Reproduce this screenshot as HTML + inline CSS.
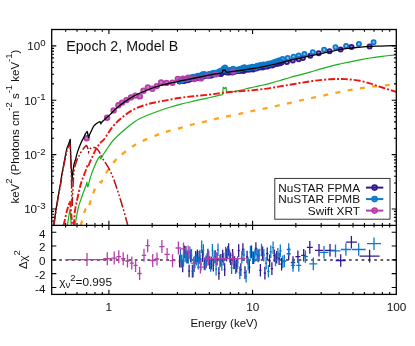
<!DOCTYPE html>
<html><head><meta charset="utf-8"><title>Epoch 2, Model B</title>
<style>
html,body{margin:0;padding:0;background:#fff;}
svg{will-change:transform;-webkit-font-smoothing:antialiased;}
body{width:415px;height:346px;overflow:hidden;font-family:"Liberation Sans",sans-serif;}
svg text{font-family:"Liberation Sans",sans-serif;}
</style></head><body>
<svg width="415" height="346" viewBox="0 0 415 346" style="display:block">
<rect x="0" y="0" width="415" height="346" fill="#ffffff"/>
<defs><clipPath id="cm"><rect x="51.7" y="29.5" width="344.6" height="195.8"/></clipPath>
<clipPath id="cr"><rect x="51.7" y="225.3" width="344.6" height="69.1"/></clipPath></defs>
<g clip-path="url(#cm)">
<circle cx="179.5" cy="81.4" r="2.10" fill="#36178f" fill-opacity="0.50" stroke="#36178f" stroke-width="1.8"/>
<circle cx="181.1" cy="80.8" r="2.10" fill="#36178f" fill-opacity="0.50" stroke="#36178f" stroke-width="1.8"/>
<circle cx="182.7" cy="80.7" r="2.10" fill="#36178f" fill-opacity="0.50" stroke="#36178f" stroke-width="1.8"/>
<circle cx="184.3" cy="81.1" r="2.10" fill="#36178f" fill-opacity="0.50" stroke="#36178f" stroke-width="1.8"/>
<circle cx="185.9" cy="80.1" r="2.10" fill="#36178f" fill-opacity="0.50" stroke="#36178f" stroke-width="1.8"/>
<circle cx="187.5" cy="80.2" r="2.10" fill="#36178f" fill-opacity="0.50" stroke="#36178f" stroke-width="1.8"/>
<circle cx="189.1" cy="79.7" r="2.10" fill="#36178f" fill-opacity="0.50" stroke="#36178f" stroke-width="1.8"/>
<circle cx="190.7" cy="79.0" r="2.10" fill="#36178f" fill-opacity="0.50" stroke="#36178f" stroke-width="1.8"/>
<circle cx="192.3" cy="78.4" r="2.10" fill="#36178f" fill-opacity="0.50" stroke="#36178f" stroke-width="1.8"/>
<circle cx="193.9" cy="78.0" r="2.10" fill="#36178f" fill-opacity="0.50" stroke="#36178f" stroke-width="1.8"/>
<circle cx="195.5" cy="78.1" r="2.10" fill="#36178f" fill-opacity="0.50" stroke="#36178f" stroke-width="1.8"/>
<circle cx="197.1" cy="77.9" r="2.10" fill="#36178f" fill-opacity="0.50" stroke="#36178f" stroke-width="1.8"/>
<circle cx="198.7" cy="77.5" r="2.10" fill="#36178f" fill-opacity="0.50" stroke="#36178f" stroke-width="1.8"/>
<circle cx="200.3" cy="77.5" r="2.10" fill="#36178f" fill-opacity="0.50" stroke="#36178f" stroke-width="1.8"/>
<circle cx="201.9" cy="76.8" r="2.10" fill="#36178f" fill-opacity="0.50" stroke="#36178f" stroke-width="1.8"/>
<circle cx="203.5" cy="76.4" r="2.10" fill="#36178f" fill-opacity="0.50" stroke="#36178f" stroke-width="1.8"/>
<circle cx="205.1" cy="75.8" r="2.10" fill="#36178f" fill-opacity="0.50" stroke="#36178f" stroke-width="1.8"/>
<circle cx="206.7" cy="75.2" r="2.10" fill="#36178f" fill-opacity="0.50" stroke="#36178f" stroke-width="1.8"/>
<circle cx="208.3" cy="75.8" r="2.10" fill="#36178f" fill-opacity="0.50" stroke="#36178f" stroke-width="1.8"/>
<circle cx="209.9" cy="75.5" r="2.10" fill="#36178f" fill-opacity="0.50" stroke="#36178f" stroke-width="1.8"/>
<circle cx="211.5" cy="75.4" r="2.10" fill="#36178f" fill-opacity="0.50" stroke="#36178f" stroke-width="1.8"/>
<circle cx="213.1" cy="74.5" r="2.10" fill="#36178f" fill-opacity="0.50" stroke="#36178f" stroke-width="1.8"/>
<circle cx="214.7" cy="74.1" r="2.10" fill="#36178f" fill-opacity="0.50" stroke="#36178f" stroke-width="1.8"/>
<circle cx="216.3" cy="73.9" r="2.10" fill="#36178f" fill-opacity="0.50" stroke="#36178f" stroke-width="1.8"/>
<circle cx="217.9" cy="73.3" r="2.10" fill="#36178f" fill-opacity="0.50" stroke="#36178f" stroke-width="1.8"/>
<circle cx="219.5" cy="73.4" r="2.10" fill="#36178f" fill-opacity="0.50" stroke="#36178f" stroke-width="1.8"/>
<circle cx="221.1" cy="74.1" r="2.10" fill="#36178f" fill-opacity="0.50" stroke="#36178f" stroke-width="1.8"/>
<circle cx="222.7" cy="71.0" r="2.10" fill="#36178f" fill-opacity="0.50" stroke="#36178f" stroke-width="1.8"/>
<circle cx="224.3" cy="71.2" r="2.10" fill="#36178f" fill-opacity="0.50" stroke="#36178f" stroke-width="1.8"/>
<circle cx="225.9" cy="72.3" r="2.10" fill="#36178f" fill-opacity="0.50" stroke="#36178f" stroke-width="1.8"/>
<circle cx="227.5" cy="72.4" r="2.10" fill="#36178f" fill-opacity="0.50" stroke="#36178f" stroke-width="1.8"/>
<circle cx="229.1" cy="72.5" r="2.10" fill="#36178f" fill-opacity="0.50" stroke="#36178f" stroke-width="1.8"/>
<circle cx="230.7" cy="72.0" r="2.10" fill="#36178f" fill-opacity="0.50" stroke="#36178f" stroke-width="1.8"/>
<circle cx="232.3" cy="72.5" r="2.10" fill="#36178f" fill-opacity="0.50" stroke="#36178f" stroke-width="1.8"/>
<circle cx="233.9" cy="72.1" r="2.10" fill="#36178f" fill-opacity="0.50" stroke="#36178f" stroke-width="1.8"/>
<circle cx="235.5" cy="71.2" r="2.10" fill="#36178f" fill-opacity="0.50" stroke="#36178f" stroke-width="1.8"/>
<circle cx="237.1" cy="71.0" r="2.10" fill="#36178f" fill-opacity="0.50" stroke="#36178f" stroke-width="1.8"/>
<circle cx="238.7" cy="71.0" r="2.10" fill="#36178f" fill-opacity="0.50" stroke="#36178f" stroke-width="1.8"/>
<circle cx="240.3" cy="70.7" r="2.10" fill="#36178f" fill-opacity="0.50" stroke="#36178f" stroke-width="1.8"/>
<circle cx="241.9" cy="70.5" r="2.10" fill="#36178f" fill-opacity="0.50" stroke="#36178f" stroke-width="1.8"/>
<circle cx="243.5" cy="71.0" r="2.10" fill="#36178f" fill-opacity="0.50" stroke="#36178f" stroke-width="1.8"/>
<circle cx="245.1" cy="68.8" r="2.10" fill="#36178f" fill-opacity="0.50" stroke="#36178f" stroke-width="1.8"/>
<circle cx="246.7" cy="69.7" r="2.10" fill="#36178f" fill-opacity="0.50" stroke="#36178f" stroke-width="1.8"/>
<circle cx="248.3" cy="69.5" r="2.10" fill="#36178f" fill-opacity="0.50" stroke="#36178f" stroke-width="1.8"/>
<circle cx="249.9" cy="69.4" r="2.10" fill="#36178f" fill-opacity="0.50" stroke="#36178f" stroke-width="1.8"/>
<circle cx="251.5" cy="68.9" r="2.10" fill="#36178f" fill-opacity="0.50" stroke="#36178f" stroke-width="1.8"/>
<circle cx="253.1" cy="69.5" r="2.10" fill="#36178f" fill-opacity="0.50" stroke="#36178f" stroke-width="1.8"/>
<circle cx="254.7" cy="68.2" r="2.10" fill="#36178f" fill-opacity="0.50" stroke="#36178f" stroke-width="1.8"/>
<circle cx="256.3" cy="68.5" r="2.10" fill="#36178f" fill-opacity="0.50" stroke="#36178f" stroke-width="1.8"/>
<circle cx="257.9" cy="67.5" r="2.10" fill="#36178f" fill-opacity="0.50" stroke="#36178f" stroke-width="1.8"/>
<circle cx="259.5" cy="67.4" r="2.10" fill="#36178f" fill-opacity="0.50" stroke="#36178f" stroke-width="1.8"/>
<circle cx="261.1" cy="66.9" r="2.10" fill="#36178f" fill-opacity="0.50" stroke="#36178f" stroke-width="1.8"/>
<circle cx="262.7" cy="67.5" r="2.10" fill="#36178f" fill-opacity="0.50" stroke="#36178f" stroke-width="1.8"/>
<circle cx="264.3" cy="66.3" r="2.10" fill="#36178f" fill-opacity="0.50" stroke="#36178f" stroke-width="1.8"/>
<circle cx="265.9" cy="66.5" r="2.10" fill="#36178f" fill-opacity="0.50" stroke="#36178f" stroke-width="1.8"/>
<circle cx="267.5" cy="66.6" r="2.10" fill="#36178f" fill-opacity="0.50" stroke="#36178f" stroke-width="1.8"/>
<circle cx="269.1" cy="65.7" r="2.10" fill="#36178f" fill-opacity="0.50" stroke="#36178f" stroke-width="1.8"/>
<circle cx="270.7" cy="65.0" r="2.10" fill="#36178f" fill-opacity="0.50" stroke="#36178f" stroke-width="1.8"/>
<circle cx="272.3" cy="65.5" r="2.10" fill="#36178f" fill-opacity="0.50" stroke="#36178f" stroke-width="1.8"/>
<circle cx="273.9" cy="64.6" r="2.10" fill="#36178f" fill-opacity="0.50" stroke="#36178f" stroke-width="1.8"/>
<circle cx="275.5" cy="64.0" r="2.10" fill="#36178f" fill-opacity="0.50" stroke="#36178f" stroke-width="1.8"/>
<circle cx="277.1" cy="63.7" r="2.10" fill="#36178f" fill-opacity="0.50" stroke="#36178f" stroke-width="1.8"/>
<circle cx="278.7" cy="63.4" r="2.10" fill="#36178f" fill-opacity="0.50" stroke="#36178f" stroke-width="1.8"/>
<circle cx="280.3" cy="63.2" r="2.10" fill="#36178f" fill-opacity="0.50" stroke="#36178f" stroke-width="1.8"/>
<circle cx="281.9" cy="62.3" r="2.10" fill="#36178f" fill-opacity="0.50" stroke="#36178f" stroke-width="1.8"/>
<circle cx="286.9" cy="62.0" r="2.10" fill="#36178f" fill-opacity="0.50" stroke="#36178f" stroke-width="1.8"/>
<circle cx="292.8" cy="60.6" r="2.10" fill="#36178f" fill-opacity="0.50" stroke="#36178f" stroke-width="1.8"/>
<circle cx="298.7" cy="59.2" r="2.10" fill="#36178f" fill-opacity="0.50" stroke="#36178f" stroke-width="1.8"/>
<circle cx="302.9" cy="58.1" r="2.10" fill="#36178f" fill-opacity="0.50" stroke="#36178f" stroke-width="1.8"/>
<circle cx="310.3" cy="55.8" r="2.10" fill="#36178f" fill-opacity="0.50" stroke="#36178f" stroke-width="1.8"/>
<circle cx="318.7" cy="53.2" r="2.10" fill="#36178f" fill-opacity="0.50" stroke="#36178f" stroke-width="1.8"/>
<circle cx="329.5" cy="51.2" r="2.10" fill="#36178f" fill-opacity="0.50" stroke="#36178f" stroke-width="1.8"/>
<circle cx="340.6" cy="49.6" r="2.10" fill="#36178f" fill-opacity="0.50" stroke="#36178f" stroke-width="1.8"/>
<circle cx="351.5" cy="47.1" r="2.10" fill="#36178f" fill-opacity="0.50" stroke="#36178f" stroke-width="1.8"/>
<circle cx="369.6" cy="46.5" r="2.10" fill="#36178f" fill-opacity="0.50" stroke="#36178f" stroke-width="1.8"/>
<circle cx="180.3" cy="80.9" r="2.10" fill="#0c79c9" fill-opacity="0.50" stroke="#0c79c9" stroke-width="1.8"/>
<circle cx="181.9" cy="80.4" r="2.10" fill="#0c79c9" fill-opacity="0.50" stroke="#0c79c9" stroke-width="1.8"/>
<circle cx="183.5" cy="79.4" r="2.10" fill="#0c79c9" fill-opacity="0.50" stroke="#0c79c9" stroke-width="1.8"/>
<circle cx="185.1" cy="79.3" r="2.10" fill="#0c79c9" fill-opacity="0.50" stroke="#0c79c9" stroke-width="1.8"/>
<circle cx="186.7" cy="79.3" r="2.10" fill="#0c79c9" fill-opacity="0.50" stroke="#0c79c9" stroke-width="1.8"/>
<circle cx="188.3" cy="78.5" r="2.10" fill="#0c79c9" fill-opacity="0.50" stroke="#0c79c9" stroke-width="1.8"/>
<circle cx="189.9" cy="77.7" r="2.10" fill="#0c79c9" fill-opacity="0.50" stroke="#0c79c9" stroke-width="1.8"/>
<circle cx="191.5" cy="77.6" r="2.10" fill="#0c79c9" fill-opacity="0.50" stroke="#0c79c9" stroke-width="1.8"/>
<circle cx="193.1" cy="76.7" r="2.10" fill="#0c79c9" fill-opacity="0.50" stroke="#0c79c9" stroke-width="1.8"/>
<circle cx="194.7" cy="77.0" r="2.10" fill="#0c79c9" fill-opacity="0.50" stroke="#0c79c9" stroke-width="1.8"/>
<circle cx="196.3" cy="76.6" r="2.10" fill="#0c79c9" fill-opacity="0.50" stroke="#0c79c9" stroke-width="1.8"/>
<circle cx="197.9" cy="75.7" r="2.10" fill="#0c79c9" fill-opacity="0.50" stroke="#0c79c9" stroke-width="1.8"/>
<circle cx="199.5" cy="76.3" r="2.10" fill="#0c79c9" fill-opacity="0.50" stroke="#0c79c9" stroke-width="1.8"/>
<circle cx="201.1" cy="75.3" r="2.10" fill="#0c79c9" fill-opacity="0.50" stroke="#0c79c9" stroke-width="1.8"/>
<circle cx="202.7" cy="74.3" r="2.10" fill="#0c79c9" fill-opacity="0.50" stroke="#0c79c9" stroke-width="1.8"/>
<circle cx="204.3" cy="73.9" r="2.10" fill="#0c79c9" fill-opacity="0.50" stroke="#0c79c9" stroke-width="1.8"/>
<circle cx="205.9" cy="75.4" r="2.10" fill="#0c79c9" fill-opacity="0.50" stroke="#0c79c9" stroke-width="1.8"/>
<circle cx="207.5" cy="74.9" r="2.10" fill="#0c79c9" fill-opacity="0.50" stroke="#0c79c9" stroke-width="1.8"/>
<circle cx="209.1" cy="73.9" r="2.10" fill="#0c79c9" fill-opacity="0.50" stroke="#0c79c9" stroke-width="1.8"/>
<circle cx="210.7" cy="74.0" r="2.10" fill="#0c79c9" fill-opacity="0.50" stroke="#0c79c9" stroke-width="1.8"/>
<circle cx="212.3" cy="73.3" r="2.10" fill="#0c79c9" fill-opacity="0.50" stroke="#0c79c9" stroke-width="1.8"/>
<circle cx="213.9" cy="72.7" r="2.10" fill="#0c79c9" fill-opacity="0.50" stroke="#0c79c9" stroke-width="1.8"/>
<circle cx="215.5" cy="72.8" r="2.10" fill="#0c79c9" fill-opacity="0.50" stroke="#0c79c9" stroke-width="1.8"/>
<circle cx="217.1" cy="73.2" r="2.10" fill="#0c79c9" fill-opacity="0.50" stroke="#0c79c9" stroke-width="1.8"/>
<circle cx="218.7" cy="71.8" r="2.10" fill="#0c79c9" fill-opacity="0.50" stroke="#0c79c9" stroke-width="1.8"/>
<circle cx="220.3" cy="70.9" r="2.10" fill="#0c79c9" fill-opacity="0.50" stroke="#0c79c9" stroke-width="1.8"/>
<circle cx="221.9" cy="70.4" r="2.10" fill="#0c79c9" fill-opacity="0.50" stroke="#0c79c9" stroke-width="1.8"/>
<circle cx="223.5" cy="68.7" r="2.10" fill="#0c79c9" fill-opacity="0.50" stroke="#0c79c9" stroke-width="1.8"/>
<circle cx="225.1" cy="67.4" r="2.10" fill="#0c79c9" fill-opacity="0.50" stroke="#0c79c9" stroke-width="1.8"/>
<circle cx="226.7" cy="70.4" r="2.10" fill="#0c79c9" fill-opacity="0.50" stroke="#0c79c9" stroke-width="1.8"/>
<circle cx="228.3" cy="70.3" r="2.10" fill="#0c79c9" fill-opacity="0.50" stroke="#0c79c9" stroke-width="1.8"/>
<circle cx="229.9" cy="69.9" r="2.10" fill="#0c79c9" fill-opacity="0.50" stroke="#0c79c9" stroke-width="1.8"/>
<circle cx="231.5" cy="70.4" r="2.10" fill="#0c79c9" fill-opacity="0.50" stroke="#0c79c9" stroke-width="1.8"/>
<circle cx="233.1" cy="68.7" r="2.10" fill="#0c79c9" fill-opacity="0.50" stroke="#0c79c9" stroke-width="1.8"/>
<circle cx="234.7" cy="70.3" r="2.10" fill="#0c79c9" fill-opacity="0.50" stroke="#0c79c9" stroke-width="1.8"/>
<circle cx="236.3" cy="69.7" r="2.10" fill="#0c79c9" fill-opacity="0.50" stroke="#0c79c9" stroke-width="1.8"/>
<circle cx="237.9" cy="70.2" r="2.10" fill="#0c79c9" fill-opacity="0.50" stroke="#0c79c9" stroke-width="1.8"/>
<circle cx="239.5" cy="69.0" r="2.10" fill="#0c79c9" fill-opacity="0.50" stroke="#0c79c9" stroke-width="1.8"/>
<circle cx="241.1" cy="68.7" r="2.10" fill="#0c79c9" fill-opacity="0.50" stroke="#0c79c9" stroke-width="1.8"/>
<circle cx="242.7" cy="68.1" r="2.10" fill="#0c79c9" fill-opacity="0.50" stroke="#0c79c9" stroke-width="1.8"/>
<circle cx="244.3" cy="67.2" r="2.10" fill="#0c79c9" fill-opacity="0.50" stroke="#0c79c9" stroke-width="1.8"/>
<circle cx="245.9" cy="68.0" r="2.10" fill="#0c79c9" fill-opacity="0.50" stroke="#0c79c9" stroke-width="1.8"/>
<circle cx="247.5" cy="68.0" r="2.10" fill="#0c79c9" fill-opacity="0.50" stroke="#0c79c9" stroke-width="1.8"/>
<circle cx="249.1" cy="67.4" r="2.10" fill="#0c79c9" fill-opacity="0.50" stroke="#0c79c9" stroke-width="1.8"/>
<circle cx="250.7" cy="67.8" r="2.10" fill="#0c79c9" fill-opacity="0.50" stroke="#0c79c9" stroke-width="1.8"/>
<circle cx="252.3" cy="66.7" r="2.10" fill="#0c79c9" fill-opacity="0.50" stroke="#0c79c9" stroke-width="1.8"/>
<circle cx="253.9" cy="66.9" r="2.10" fill="#0c79c9" fill-opacity="0.50" stroke="#0c79c9" stroke-width="1.8"/>
<circle cx="255.5" cy="67.6" r="2.10" fill="#0c79c9" fill-opacity="0.50" stroke="#0c79c9" stroke-width="1.8"/>
<circle cx="257.1" cy="65.7" r="2.10" fill="#0c79c9" fill-opacity="0.50" stroke="#0c79c9" stroke-width="1.8"/>
<circle cx="258.7" cy="65.9" r="2.10" fill="#0c79c9" fill-opacity="0.50" stroke="#0c79c9" stroke-width="1.8"/>
<circle cx="260.3" cy="64.9" r="2.10" fill="#0c79c9" fill-opacity="0.50" stroke="#0c79c9" stroke-width="1.8"/>
<circle cx="261.9" cy="64.9" r="2.10" fill="#0c79c9" fill-opacity="0.50" stroke="#0c79c9" stroke-width="1.8"/>
<circle cx="263.5" cy="64.6" r="2.10" fill="#0c79c9" fill-opacity="0.50" stroke="#0c79c9" stroke-width="1.8"/>
<circle cx="265.1" cy="64.9" r="2.10" fill="#0c79c9" fill-opacity="0.50" stroke="#0c79c9" stroke-width="1.8"/>
<circle cx="266.7" cy="64.6" r="2.10" fill="#0c79c9" fill-opacity="0.50" stroke="#0c79c9" stroke-width="1.8"/>
<circle cx="268.3" cy="63.7" r="2.10" fill="#0c79c9" fill-opacity="0.50" stroke="#0c79c9" stroke-width="1.8"/>
<circle cx="269.9" cy="63.4" r="2.10" fill="#0c79c9" fill-opacity="0.50" stroke="#0c79c9" stroke-width="1.8"/>
<circle cx="271.5" cy="63.4" r="2.10" fill="#0c79c9" fill-opacity="0.50" stroke="#0c79c9" stroke-width="1.8"/>
<circle cx="273.1" cy="62.7" r="2.10" fill="#0c79c9" fill-opacity="0.50" stroke="#0c79c9" stroke-width="1.8"/>
<circle cx="274.7" cy="62.1" r="2.10" fill="#0c79c9" fill-opacity="0.50" stroke="#0c79c9" stroke-width="1.8"/>
<circle cx="276.3" cy="61.4" r="2.10" fill="#0c79c9" fill-opacity="0.50" stroke="#0c79c9" stroke-width="1.8"/>
<circle cx="277.9" cy="61.0" r="2.10" fill="#0c79c9" fill-opacity="0.50" stroke="#0c79c9" stroke-width="1.8"/>
<circle cx="279.5" cy="60.3" r="2.10" fill="#0c79c9" fill-opacity="0.50" stroke="#0c79c9" stroke-width="1.8"/>
<circle cx="282.6" cy="59.1" r="2.10" fill="#0c79c9" fill-opacity="0.50" stroke="#0c79c9" stroke-width="1.8"/>
<circle cx="287.7" cy="57.9" r="2.10" fill="#0c79c9" fill-opacity="0.50" stroke="#0c79c9" stroke-width="1.8"/>
<circle cx="293.6" cy="56.8" r="2.10" fill="#0c79c9" fill-opacity="0.50" stroke="#0c79c9" stroke-width="1.8"/>
<circle cx="298.7" cy="55.6" r="2.10" fill="#0c79c9" fill-opacity="0.50" stroke="#0c79c9" stroke-width="1.8"/>
<circle cx="304.4" cy="54.1" r="2.10" fill="#0c79c9" fill-opacity="0.50" stroke="#0c79c9" stroke-width="1.8"/>
<circle cx="312.8" cy="52.2" r="2.10" fill="#0c79c9" fill-opacity="0.50" stroke="#0c79c9" stroke-width="1.8"/>
<circle cx="324.1" cy="49.7" r="2.10" fill="#0c79c9" fill-opacity="0.50" stroke="#0c79c9" stroke-width="1.8"/>
<circle cx="335.5" cy="47.3" r="2.10" fill="#0c79c9" fill-opacity="0.50" stroke="#0c79c9" stroke-width="1.8"/>
<circle cx="346.1" cy="45.9" r="2.10" fill="#0c79c9" fill-opacity="0.50" stroke="#0c79c9" stroke-width="1.8"/>
<circle cx="358.9" cy="44.0" r="2.10" fill="#0c79c9" fill-opacity="0.50" stroke="#0c79c9" stroke-width="1.8"/>
<circle cx="373.6" cy="42.2" r="2.10" fill="#0c79c9" fill-opacity="0.50" stroke="#0c79c9" stroke-width="1.8"/>
<circle cx="86.7" cy="138.2" r="2.30" fill="#b53fa9" fill-opacity="0.70" stroke="#b53fa9" stroke-width="1.8"/>
<circle cx="107.1" cy="117.8" r="2.30" fill="#b53fa9" fill-opacity="0.70" stroke="#b53fa9" stroke-width="1.8"/>
<circle cx="113.6" cy="110.4" r="2.30" fill="#b53fa9" fill-opacity="0.70" stroke="#b53fa9" stroke-width="1.8"/>
<circle cx="118.4" cy="105.2" r="2.30" fill="#b53fa9" fill-opacity="0.70" stroke="#b53fa9" stroke-width="1.8"/>
<circle cx="122.1" cy="102.6" r="2.30" fill="#b53fa9" fill-opacity="0.70" stroke="#b53fa9" stroke-width="1.8"/>
<circle cx="126.5" cy="100.1" r="2.30" fill="#b53fa9" fill-opacity="0.70" stroke="#b53fa9" stroke-width="1.8"/>
<circle cx="131.0" cy="97.4" r="2.30" fill="#b53fa9" fill-opacity="0.70" stroke="#b53fa9" stroke-width="1.8"/>
<circle cx="135.4" cy="95.6" r="2.30" fill="#b53fa9" fill-opacity="0.70" stroke="#b53fa9" stroke-width="1.8"/>
<circle cx="139.8" cy="96.4" r="2.30" fill="#b53fa9" fill-opacity="0.70" stroke="#b53fa9" stroke-width="1.8"/>
<circle cx="143.5" cy="90.7" r="2.30" fill="#b53fa9" fill-opacity="0.70" stroke="#b53fa9" stroke-width="1.8"/>
<circle cx="147.9" cy="87.4" r="2.30" fill="#b53fa9" fill-opacity="0.70" stroke="#b53fa9" stroke-width="1.8"/>
<circle cx="152.4" cy="88.8" r="2.30" fill="#b53fa9" fill-opacity="0.70" stroke="#b53fa9" stroke-width="1.8"/>
<circle cx="156.8" cy="86.1" r="2.30" fill="#b53fa9" fill-opacity="0.70" stroke="#b53fa9" stroke-width="1.8"/>
<circle cx="161.1" cy="82.4" r="2.30" fill="#b53fa9" fill-opacity="0.70" stroke="#b53fa9" stroke-width="1.8"/>
<circle cx="166.5" cy="82.9" r="2.30" fill="#b53fa9" fill-opacity="0.70" stroke="#b53fa9" stroke-width="1.8"/>
<circle cx="172.4" cy="82.7" r="2.30" fill="#b53fa9" fill-opacity="0.70" stroke="#b53fa9" stroke-width="1.8"/>
<circle cx="177.8" cy="78.9" r="2.30" fill="#b53fa9" fill-opacity="0.70" stroke="#b53fa9" stroke-width="1.8"/>
<circle cx="183.0" cy="78.6" r="2.30" fill="#b53fa9" fill-opacity="0.70" stroke="#b53fa9" stroke-width="1.8"/>
<circle cx="188.1" cy="77.7" r="2.30" fill="#b53fa9" fill-opacity="0.70" stroke="#b53fa9" stroke-width="1.8"/>
<circle cx="194.3" cy="79.0" r="2.30" fill="#b53fa9" fill-opacity="0.70" stroke="#b53fa9" stroke-width="1.8"/>
<circle cx="200.9" cy="78.4" r="2.30" fill="#b53fa9" fill-opacity="0.70" stroke="#b53fa9" stroke-width="1.8"/>
<circle cx="207.5" cy="75.6" r="2.30" fill="#b53fa9" fill-opacity="0.70" stroke="#b53fa9" stroke-width="1.8"/>
<circle cx="215.6" cy="74.4" r="2.30" fill="#b53fa9" fill-opacity="0.70" stroke="#b53fa9" stroke-width="1.8"/>
<circle cx="233.3" cy="71.6" r="2.30" fill="#b53fa9" fill-opacity="0.70" stroke="#b53fa9" stroke-width="1.8"/>
<path d="M53.60 225.30 C54.25 221.08 56.37 206.88 57.50 200.00 C58.63 193.12 59.72 188.00 60.40 184.00 C61.08 180.00 61.03 179.33 61.60 176.00 C62.17 172.67 62.95 168.47 63.80 164.00 C64.65 159.53 65.97 152.33 66.70 149.20 C67.43 146.07 67.75 146.40 68.20 145.20 C68.65 144.00 69.07 142.98 69.40 142.00 C69.73 141.02 70.07 139.75 70.20 139.30 C70.25 141.08 70.35 145.88 70.50 150.00 C70.65 154.12 70.88 159.67 71.10 164.00 C71.32 168.33 71.65 173.17 71.80 176.00 C71.95 178.83 71.97 180.17 72.00 181.00 C72.07 180.17 72.25 177.50 72.40 176.00 C72.55 174.50 72.62 174.00 72.90 172.00 C73.18 170.00 73.63 166.17 74.10 164.00 C74.57 161.83 75.12 161.07 75.70 159.00 C76.28 156.93 76.63 154.47 77.60 151.60 C78.57 148.73 80.48 144.13 81.50 141.80 C82.52 139.47 83.05 138.92 83.70 137.60 C84.35 136.28 84.82 134.92 85.40 133.90 C85.98 132.88 86.90 131.90 87.20 131.50 C87.33 132.08 87.77 133.98 88.00 135.00 C88.23 136.02 88.50 137.17 88.60 137.60 C88.77 137.08 89.15 135.60 89.60 134.50 C90.05 133.40 90.58 132.43 91.30 131.00 C92.02 129.57 92.95 127.20 93.90 125.90 C94.85 124.60 95.98 123.93 97.00 123.20 C98.02 122.47 99.50 121.78 100.00 121.50 L100.80 123.90 C101.00 123.58 101.30 122.78 102.00 122.00 C102.70 121.22 103.67 120.43 105.00 119.20 C106.33 117.97 108.33 116.20 110.00 114.60 C111.67 113.00 113.33 111.17 115.00 109.60 C116.67 108.03 118.33 106.53 120.00 105.20 C121.67 103.87 123.33 102.73 125.00 101.60 C126.67 100.47 128.33 99.42 130.00 98.40 C131.67 97.38 133.33 96.40 135.00 95.50 C136.67 94.60 137.50 94.08 140.00 93.00 C142.50 91.92 146.67 90.22 150.00 89.00 C153.33 87.78 156.67 86.67 160.00 85.70 C163.33 84.73 166.67 83.98 170.00 83.20 C173.33 82.42 177.33 81.57 180.00 81.00 C182.67 80.43 182.67 80.47 186.00 79.80 C189.33 79.13 195.33 77.93 200.00 77.00 C204.67 76.07 210.67 74.80 214.00 74.20 C217.33 73.60 218.62 73.62 220.00 73.40 C221.38 73.18 221.92 72.98 222.30 72.90 L222.90 69.80 L224.00 70.60 L225.00 69.60 C225.15 69.93 225.57 71.15 225.90 71.60 C226.23 72.05 226.82 72.18 227.00 72.30 C227.17 72.27 225.83 72.40 228.00 72.10 C230.17 71.80 236.33 71.02 240.00 70.50 C243.67 69.98 246.67 69.53 250.00 69.00 C253.33 68.47 257.33 67.77 260.00 67.30 C262.67 66.83 262.67 66.93 266.00 66.20 C269.33 65.47 275.33 64.03 280.00 62.90 C284.67 61.77 290.67 60.18 294.00 59.40 C297.33 58.62 297.33 58.78 300.00 58.20 C302.67 57.62 306.67 56.63 310.00 55.90 C313.33 55.17 316.67 54.50 320.00 53.80 C323.33 53.10 326.67 52.38 330.00 51.70 C333.33 51.02 337.00 50.25 340.00 49.70 C343.00 49.15 345.33 48.77 348.00 48.40 C350.67 48.03 353.00 47.78 356.00 47.50 C359.00 47.22 362.67 46.93 366.00 46.70 C369.33 46.47 372.67 46.25 376.00 46.10 C379.33 45.95 382.67 45.87 386.00 45.80 C389.33 45.73 394.33 45.72 396.00 45.70" fill="none" stroke="#000" stroke-width="1.3" stroke-linejoin="round"/>
<path d="M67.4 225.3 L69.0 215.0 L70.0 209.4 L70.6 215.0 L71.2 225.3" fill="none" stroke="#1cb01c" stroke-width="1.2" stroke-linejoin="round"/>
<path d="M75.00 225.30 C75.53 222.43 77.13 212.65 78.20 208.10 C79.27 203.55 80.33 201.17 81.40 198.00 C82.47 194.83 83.75 191.43 84.60 189.10 C85.45 186.77 86.12 185.18 86.50 184.00 C86.88 182.82 86.83 182.33 86.90 182.00 L87.60 186.60 C87.72 186.43 87.83 187.13 88.30 185.60 C88.77 184.07 89.43 180.45 90.40 177.40 C91.37 174.35 92.88 170.30 94.10 167.30 C95.32 164.30 96.75 161.23 97.70 159.40 C98.65 157.57 99.45 156.82 99.80 156.30 L100.80 159.00 C100.97 158.70 101.37 157.98 101.80 157.20 C102.23 156.42 102.60 155.57 103.40 154.30 C104.20 153.03 104.92 151.98 106.60 149.60 C108.28 147.22 110.23 143.57 113.50 140.00 C116.77 136.43 122.62 131.30 126.20 128.20 C129.78 125.10 132.70 123.02 135.00 121.40 C137.30 119.78 137.50 119.68 140.00 118.50 C142.50 117.32 146.67 115.63 150.00 114.30 C153.33 112.97 156.67 111.68 160.00 110.50 C163.33 109.32 166.67 108.22 170.00 107.20 C173.33 106.18 176.67 105.27 180.00 104.40 C183.33 103.53 186.67 102.78 190.00 102.00 C193.33 101.22 196.67 100.45 200.00 99.70 C203.33 98.95 206.67 98.25 210.00 97.50 C213.33 96.75 217.90 95.68 220.00 95.20 C222.10 94.72 222.17 94.70 222.60 94.60 L223.20 87.30 L224.70 88.50 L226.00 87.30 L226.70 92.20 C227.00 92.22 227.12 92.45 228.50 92.30 C229.88 92.15 233.08 91.62 235.00 91.30 C236.92 90.98 237.50 90.97 240.00 90.40 C242.50 89.83 246.67 88.68 250.00 87.90 C253.33 87.12 256.67 86.47 260.00 85.70 C263.33 84.93 266.67 84.17 270.00 83.30 C273.33 82.43 276.67 81.47 280.00 80.50 C283.33 79.53 286.67 78.45 290.00 77.50 C293.33 76.55 296.67 75.68 300.00 74.80 C303.33 73.92 306.67 73.15 310.00 72.20 C313.33 71.25 316.67 70.08 320.00 69.10 C323.33 68.12 326.67 67.15 330.00 66.30 C333.33 65.45 336.67 64.73 340.00 64.00 C343.33 63.27 346.67 62.58 350.00 61.90 C353.33 61.22 356.67 60.55 360.00 59.90 C363.33 59.25 366.67 58.55 370.00 58.00 C373.33 57.45 375.67 57.13 380.00 56.60 C384.33 56.07 393.33 55.10 396.00 54.80" fill="none" stroke="#1cb01c" stroke-width="1.2" stroke-linejoin="round"/>
<path d="M80.80 225.30 C81.43 222.97 83.65 214.12 84.60 211.30 C85.55 208.48 86.18 208.88 86.50 208.40 L88.00 209.80 C88.48 208.15 89.77 203.37 90.90 199.90 C92.03 196.43 93.92 191.18 94.80 189.00 C95.68 186.82 95.33 187.93 96.20 186.80 C97.07 185.67 99.37 182.97 100.00 182.20 L101.30 182.40 C102.25 180.62 104.72 175.30 107.00 171.70 C109.28 168.10 112.83 163.42 115.00 160.80 C117.17 158.18 117.50 158.08 120.00 156.00 C122.50 153.92 126.67 150.60 130.00 148.30 C133.33 146.00 135.55 144.40 140.00 142.20 C144.45 140.00 151.98 136.93 156.70 135.10 C161.42 133.27 164.28 132.42 168.30 131.20 C172.32 129.98 176.78 128.92 180.80 127.80 C184.82 126.68 188.38 125.53 192.40 124.50 C196.42 123.47 200.88 122.57 204.90 121.60 C208.92 120.63 212.65 119.62 216.50 118.70 C220.35 117.78 223.82 116.98 228.00 116.10 C232.18 115.22 237.42 114.27 241.60 113.40 C245.78 112.53 249.10 111.75 253.10 110.90 C257.10 110.05 261.42 109.20 265.60 108.30 C269.78 107.40 274.12 106.42 278.20 105.50 C282.28 104.58 286.08 103.72 290.10 102.80 C294.12 101.88 298.33 100.88 302.30 100.00 C306.27 99.12 309.90 98.35 313.90 97.50 C317.90 96.65 322.25 95.77 326.30 94.90 C330.35 94.03 334.12 93.13 338.20 92.30 C342.28 91.47 346.65 90.65 350.80 89.90 C354.95 89.15 359.05 88.40 363.10 87.80 C367.15 87.20 371.00 86.75 375.10 86.30 C379.20 85.85 384.80 85.35 387.70 85.10 C390.60 84.85 391.70 84.85 392.50 84.80" fill="none" stroke="#ffa31a" stroke-width="2.3" stroke-dasharray="5 7.43" stroke-dashoffset="-0.06"/>
<path d="M53.90 225.30 C54.55 221.08 56.67 206.88 57.80 200.00 C58.93 193.12 60.02 188.00 60.70 184.00 C61.38 180.00 61.33 179.33 61.90 176.00 C62.47 172.67 63.25 168.25 64.10 164.00 C64.95 159.75 66.25 153.42 67.00 150.50 C67.75 147.58 68.15 147.53 68.60 146.50 C69.05 145.47 69.52 144.67 69.70 144.30 C69.80 144.75 70.12 144.38 70.30 147.00 C70.48 149.62 70.60 154.17 70.80 160.00 C71.00 165.83 71.32 175.33 71.50 182.00 C71.68 188.67 71.78 196.00 71.90 200.00 C72.02 204.00 72.15 205.00 72.20 206.00" fill="none" stroke="#b01212" stroke-width="1.5" stroke-dasharray="9.6 2.1 1.8 2.1 1.8 2.2"/>
<path d="M72.20 206.00 C72.30 203.33 72.57 195.00 72.80 190.00 C73.03 185.00 73.33 179.58 73.60 176.00 C73.87 172.42 74.03 170.57 74.40 168.50 C74.77 166.43 75.32 165.17 75.80 163.60 C76.28 162.03 76.80 160.33 77.30 159.10 C77.80 157.87 78.23 157.27 78.80 156.20 C79.37 155.13 79.88 154.02 80.70 152.70 C81.52 151.38 82.80 149.48 83.70 148.30 C84.60 147.12 85.70 146.05 86.10 145.60 C86.30 145.80 86.88 145.73 87.30 146.80 C87.72 147.87 88.38 151.13 88.60 152.00 C88.77 151.58 89.20 150.17 89.60 149.50 C90.00 148.83 90.77 148.25 91.00 148.00 C91.58 147.93 93.43 147.38 94.50 147.60 C95.57 147.82 96.42 148.27 97.40 149.30 C98.38 150.33 99.77 152.68 100.40 153.80 C101.03 154.92 100.63 154.87 101.20 156.00 C101.77 157.13 103.03 159.37 103.80 160.60 C104.57 161.83 104.85 161.90 105.80 163.40 C106.75 164.90 108.13 166.83 109.50 169.60 C110.87 172.37 112.50 176.02 114.00 180.00 C115.50 183.98 117.00 188.83 118.50 193.50 C120.00 198.17 121.62 203.30 123.00 208.00 C124.38 212.70 126.00 218.82 126.80 221.70 C127.60 224.58 127.63 224.70 127.80 225.30" fill="none" stroke="#b01212" stroke-width="1.5" stroke-dasharray="9.6 2.1 1.8 2.1 1.8 2.2" stroke-dashoffset="-18.99"/>
<path d="M63.6 225.3 L66.8 211.3 L68.7 205.0 L69.8 201.0 L70.4 204.0 L71.2 213.0 L72.3 225.3" fill="none" stroke="#ee1414" stroke-width="1.9" stroke-dasharray="6.5 2 2 2"/>
<path d="M73.80 225.30 C74.00 222.87 74.47 214.83 75.00 210.70 C75.53 206.57 76.35 203.68 77.00 200.50 C77.65 197.32 78.27 194.35 78.90 191.60 C79.53 188.85 80.20 186.12 80.80 184.00 C81.40 181.88 81.77 180.90 82.50 178.90 C83.23 176.90 84.43 174.07 85.20 172.00 C85.97 169.93 86.78 167.42 87.10 166.50 L88.20 167.50 C88.42 166.75 88.87 164.63 89.50 163.00 C90.13 161.37 91.25 159.33 92.00 157.70 C92.75 156.07 93.25 154.77 94.00 153.20 C94.75 151.63 95.43 150.02 96.50 148.30 C97.57 146.58 99.10 144.45 100.40 142.90 C101.70 141.35 102.30 141.65 104.30 139.00 C106.30 136.35 109.52 130.53 112.40 127.00 C115.28 123.47 118.13 120.68 121.60 117.80 C125.07 114.92 128.97 111.93 133.20 109.70 C137.43 107.47 142.53 105.78 147.00 104.40 C151.47 103.02 157.08 102.03 160.00 101.40 C162.92 100.77 161.35 101.17 164.50 100.60 C167.65 100.03 174.08 98.73 178.90 98.00 C183.72 97.27 188.58 96.73 193.40 96.20 C198.22 95.67 203.37 95.30 207.80 94.80 C212.23 94.30 216.30 93.67 220.00 93.20 C223.70 92.73 226.67 92.32 230.00 92.00 C233.33 91.68 236.67 91.55 240.00 91.30 C243.33 91.05 246.67 90.82 250.00 90.50 C253.33 90.18 256.67 89.80 260.00 89.40 C263.33 89.00 266.67 88.60 270.00 88.10 C273.33 87.60 276.67 86.97 280.00 86.40 C283.33 85.83 286.67 85.27 290.00 84.70 C293.33 84.13 296.67 83.55 300.00 83.00 C303.33 82.45 306.67 81.88 310.00 81.40 C313.33 80.92 316.67 80.45 320.00 80.10 C323.33 79.75 327.00 79.48 330.00 79.30 C333.00 79.12 335.50 79.03 338.00 79.00 C340.50 78.97 342.67 78.98 345.00 79.10 C347.33 79.22 349.50 79.42 352.00 79.70 C354.50 79.98 357.33 80.28 360.00 80.80 C362.67 81.32 365.50 82.08 368.00 82.80 C370.50 83.52 372.17 84.17 375.00 85.10 C377.83 86.03 381.50 87.28 385.00 88.40 C388.50 89.52 394.17 91.23 396.00 91.80" fill="none" stroke="#ee1414" stroke-width="1.9" stroke-dasharray="6.9 2 2 2" stroke-dashoffset="-12.06"/>
</g>
<g clip-path="url(#cr)">
<path d="M51.7 259.9H396.3" stroke="#333" stroke-width="1.5" stroke-dasharray="2.7 3.6" stroke-dashoffset="-1.2" fill="none"/>
<path d="M178.7 261.3H180.5M179.6 255.0V267.6" stroke="#36178f" stroke-width="1.3" fill="none"/>
<path d="M180.2 261.1H182.0M181.1 254.8V267.4" stroke="#36178f" stroke-width="1.3" fill="none"/>
<path d="M181.8 265.9H183.6M182.7 259.6V272.2" stroke="#36178f" stroke-width="1.3" fill="none"/>
<path d="M183.4 251.8H185.2M184.3 245.5V258.1" stroke="#36178f" stroke-width="1.3" fill="none"/>
<path d="M185.0 252.3H186.8M185.9 246.0V258.6" stroke="#36178f" stroke-width="1.3" fill="none"/>
<path d="M186.6 256.8H188.4M187.5 250.5V263.1" stroke="#36178f" stroke-width="1.3" fill="none"/>
<path d="M188.2 271.0H190.0M189.1 264.7V277.3" stroke="#36178f" stroke-width="1.3" fill="none"/>
<path d="M189.8 256.0H191.6M190.7 249.7V262.3" stroke="#36178f" stroke-width="1.3" fill="none"/>
<path d="M191.5 271.2H193.3M192.4 264.9V277.5" stroke="#36178f" stroke-width="1.3" fill="none"/>
<path d="M193.1 265.7H194.9M194.0 259.4V272.0" stroke="#36178f" stroke-width="1.3" fill="none"/>
<path d="M194.8 257.4H196.6M195.7 251.1V263.7" stroke="#36178f" stroke-width="1.3" fill="none"/>
<path d="M196.5 255.9H198.3M197.4 249.6V262.2" stroke="#36178f" stroke-width="1.3" fill="none"/>
<path d="M198.2 257.4H200.0M199.1 251.1V263.7" stroke="#36178f" stroke-width="1.3" fill="none"/>
<path d="M199.9 264.1H201.7M200.8 257.8V270.4" stroke="#36178f" stroke-width="1.3" fill="none"/>
<path d="M201.7 255.7H203.5M202.6 249.4V262.0" stroke="#36178f" stroke-width="1.3" fill="none"/>
<path d="M203.4 263.8H205.2M204.3 257.5V270.1" stroke="#36178f" stroke-width="1.3" fill="none"/>
<path d="M205.2 261.9H207.0M206.1 255.6V268.2" stroke="#36178f" stroke-width="1.3" fill="none"/>
<path d="M207.0 255.1H208.8M207.9 248.8V261.4" stroke="#36178f" stroke-width="1.3" fill="none"/>
<path d="M208.8 262.6H210.6M209.7 256.3V268.9" stroke="#36178f" stroke-width="1.3" fill="none"/>
<path d="M210.6 263.1H212.4M211.5 256.8V269.4" stroke="#36178f" stroke-width="1.3" fill="none"/>
<path d="M212.4 265.1H214.2M213.3 258.8V271.4" stroke="#36178f" stroke-width="1.3" fill="none"/>
<path d="M214.2 256.6H216.1M215.2 250.3V262.9" stroke="#36178f" stroke-width="1.3" fill="none"/>
<path d="M216.1 259.2H218.0M217.0 252.9V265.5" stroke="#36178f" stroke-width="1.3" fill="none"/>
<path d="M218.0 273.4H219.9M218.9 267.1V279.7" stroke="#36178f" stroke-width="1.3" fill="none"/>
<path d="M219.9 260.2H221.8M220.8 253.9V266.5" stroke="#36178f" stroke-width="1.3" fill="none"/>
<path d="M221.8 256.1H223.7M222.7 249.8V262.4" stroke="#36178f" stroke-width="1.3" fill="none"/>
<path d="M223.7 269.6H225.6M224.7 263.3V275.9" stroke="#36178f" stroke-width="1.3" fill="none"/>
<path d="M225.6 254.9H227.6M226.6 248.6V261.2" stroke="#36178f" stroke-width="1.3" fill="none"/>
<path d="M227.6 249.5H229.6M228.6 243.2V255.8" stroke="#36178f" stroke-width="1.3" fill="none"/>
<path d="M229.6 258.7H231.6M230.6 252.4V265.0" stroke="#36178f" stroke-width="1.3" fill="none"/>
<path d="M231.6 255.3H233.6M232.6 249.0V261.6" stroke="#36178f" stroke-width="1.3" fill="none"/>
<path d="M233.6 262.6H235.6M234.6 256.3V268.9" stroke="#36178f" stroke-width="1.3" fill="none"/>
<path d="M235.6 266.2H237.7M236.7 259.9V272.5" stroke="#36178f" stroke-width="1.3" fill="none"/>
<path d="M237.7 250.6H239.8M238.7 244.3V256.9" stroke="#36178f" stroke-width="1.3" fill="none"/>
<path d="M239.7 269.6H241.8M240.8 263.3V275.9" stroke="#36178f" stroke-width="1.3" fill="none"/>
<path d="M241.8 249.5H243.9M242.9 243.2V255.8" stroke="#36178f" stroke-width="1.3" fill="none"/>
<path d="M243.9 272.6H246.1M245.0 266.3V278.9" stroke="#36178f" stroke-width="1.3" fill="none"/>
<path d="M246.1 257.0H248.2M247.1 250.7V263.3" stroke="#36178f" stroke-width="1.3" fill="none"/>
<path d="M248.2 267.2H250.4M249.3 260.9V273.5" stroke="#36178f" stroke-width="1.3" fill="none"/>
<path d="M250.4 251.9H252.6M251.5 245.6V258.2" stroke="#36178f" stroke-width="1.3" fill="none"/>
<path d="M252.6 257.8H254.8M253.7 251.5V264.1" stroke="#36178f" stroke-width="1.3" fill="none"/>
<path d="M254.8 248.5H257.0M255.9 242.2V254.8" stroke="#36178f" stroke-width="1.3" fill="none"/>
<path d="M257.0 255.9H259.2M258.1 249.6V262.2" stroke="#36178f" stroke-width="1.3" fill="none"/>
<path d="M259.2 270.3H261.5M260.4 264.0V276.6" stroke="#36178f" stroke-width="1.3" fill="none"/>
<path d="M261.5 252.9H263.8M262.6 246.6V259.2" stroke="#36178f" stroke-width="1.3" fill="none"/>
<path d="M263.8 273.1H266.1M264.9 266.8V279.4" stroke="#36178f" stroke-width="1.3" fill="none"/>
<path d="M266.1 253.7H268.4M267.2 247.4V260.0" stroke="#36178f" stroke-width="1.3" fill="none"/>
<path d="M268.4 260.8H270.8M269.6 254.5V267.1" stroke="#36178f" stroke-width="1.3" fill="none"/>
<path d="M270.7 268.6H273.1M271.9 262.3V274.9" stroke="#36178f" stroke-width="1.3" fill="none"/>
<path d="M273.1 255.7H275.5M274.3 249.4V262.0" stroke="#36178f" stroke-width="1.3" fill="none"/>
<path d="M275.5 257.3H277.9M276.7 251.0V263.6" stroke="#36178f" stroke-width="1.3" fill="none"/>
<path d="M277.9 258.7H280.3M279.1 252.4V265.0" stroke="#36178f" stroke-width="1.3" fill="none"/>
<path d="M280.3 264.1H282.8M281.6 257.8V270.4" stroke="#36178f" stroke-width="1.3" fill="none"/>
<path d="M286.7 253.8H290.7M288.7 247.5V260.1" stroke="#36178f" stroke-width="1.3" fill="none"/>
<path d="M290.8 262.5H295.2M293.0 256.2V268.8" stroke="#36178f" stroke-width="1.3" fill="none"/>
<path d="M295.4 256.7H300.4M297.9 250.4V263.0" stroke="#36178f" stroke-width="1.3" fill="none"/>
<path d="M301.2 255.3H306.2M303.7 249.0V261.6" stroke="#36178f" stroke-width="1.3" fill="none"/>
<path d="M306.8 247.4H312.8M309.8 241.1V253.7" stroke="#36178f" stroke-width="1.3" fill="none"/>
<path d="M315.0 250.3H323.0M319.0 244.0V256.6" stroke="#36178f" stroke-width="1.3" fill="none"/>
<path d="M325.0 250.3H335.0M330.0 244.0V256.6" stroke="#36178f" stroke-width="1.3" fill="none"/>
<path d="M335.7 260.5H345.7M340.7 254.2V266.8" stroke="#36178f" stroke-width="1.3" fill="none"/>
<path d="M345.9 242.2H356.9M351.4 235.9V248.5" stroke="#36178f" stroke-width="1.3" fill="none"/>
<path d="M359.6 256.1H379.6M369.6 249.8V262.4" stroke="#36178f" stroke-width="1.3" fill="none"/>
<path d="M179.5 255.3H181.3M180.4 249.0V261.6" stroke="#0c79c9" stroke-width="1.3" fill="none"/>
<path d="M181.0 261.0H182.8M181.9 254.7V267.3" stroke="#0c79c9" stroke-width="1.3" fill="none"/>
<path d="M182.6 260.3H184.4M183.5 254.0V266.6" stroke="#0c79c9" stroke-width="1.3" fill="none"/>
<path d="M184.2 255.9H186.0M185.1 249.6V262.2" stroke="#0c79c9" stroke-width="1.3" fill="none"/>
<path d="M185.8 257.1H187.6M186.7 250.8V263.4" stroke="#0c79c9" stroke-width="1.3" fill="none"/>
<path d="M187.4 257.5H189.2M188.3 251.2V263.8" stroke="#0c79c9" stroke-width="1.3" fill="none"/>
<path d="M189.0 252.9H190.8M189.9 246.6V259.2" stroke="#0c79c9" stroke-width="1.3" fill="none"/>
<path d="M190.6 255.4H192.4M191.5 249.1V261.7" stroke="#0c79c9" stroke-width="1.3" fill="none"/>
<path d="M192.3 270.9H194.1M193.2 264.6V277.2" stroke="#0c79c9" stroke-width="1.3" fill="none"/>
<path d="M194.0 262.0H195.8M194.9 255.7V268.3" stroke="#0c79c9" stroke-width="1.3" fill="none"/>
<path d="M195.7 259.1H197.5M196.6 252.8V265.4" stroke="#0c79c9" stroke-width="1.3" fill="none"/>
<path d="M197.4 263.3H199.2M198.3 257.0V269.6" stroke="#0c79c9" stroke-width="1.3" fill="none"/>
<path d="M199.1 256.1H200.9M200.0 249.8V262.4" stroke="#0c79c9" stroke-width="1.3" fill="none"/>
<path d="M200.8 246.9H202.6M201.7 240.6V253.2" stroke="#0c79c9" stroke-width="1.3" fill="none"/>
<path d="M202.5 250.5H204.3M203.4 244.2V256.8" stroke="#0c79c9" stroke-width="1.3" fill="none"/>
<path d="M204.3 263.9H206.1M205.2 257.6V270.2" stroke="#0c79c9" stroke-width="1.3" fill="none"/>
<path d="M206.1 259.5H207.9M207.0 253.2V265.8" stroke="#0c79c9" stroke-width="1.3" fill="none"/>
<path d="M207.9 257.1H209.7M208.8 250.8V263.4" stroke="#0c79c9" stroke-width="1.3" fill="none"/>
<path d="M209.7 265.4H211.5M210.6 259.1V271.7" stroke="#0c79c9" stroke-width="1.3" fill="none"/>
<path d="M211.5 250.4H213.3M212.4 244.1V256.7" stroke="#0c79c9" stroke-width="1.3" fill="none"/>
<path d="M213.3 257.1H215.2M214.2 250.8V263.4" stroke="#0c79c9" stroke-width="1.3" fill="none"/>
<path d="M215.2 269.1H217.0M216.1 262.8V275.4" stroke="#0c79c9" stroke-width="1.3" fill="none"/>
<path d="M217.0 249.8H218.9M218.0 243.5V256.1" stroke="#0c79c9" stroke-width="1.3" fill="none"/>
<path d="M218.9 261.0H220.8M219.9 254.7V267.3" stroke="#0c79c9" stroke-width="1.3" fill="none"/>
<path d="M220.8 264.5H222.7M221.8 258.2V270.8" stroke="#0c79c9" stroke-width="1.3" fill="none"/>
<path d="M222.7 259.2H224.7M223.7 252.9V265.5" stroke="#0c79c9" stroke-width="1.3" fill="none"/>
<path d="M224.7 253.1H226.6M225.6 246.8V259.4" stroke="#0c79c9" stroke-width="1.3" fill="none"/>
<path d="M226.6 252.3H228.6M227.6 246.0V258.6" stroke="#0c79c9" stroke-width="1.3" fill="none"/>
<path d="M228.6 256.3H230.6M229.6 250.0V262.6" stroke="#0c79c9" stroke-width="1.3" fill="none"/>
<path d="M230.6 267.8H232.6M231.6 261.5V274.1" stroke="#0c79c9" stroke-width="1.3" fill="none"/>
<path d="M232.6 263.0H234.6M233.6 256.7V269.3" stroke="#0c79c9" stroke-width="1.3" fill="none"/>
<path d="M234.6 267.6H236.7M235.6 261.3V273.9" stroke="#0c79c9" stroke-width="1.3" fill="none"/>
<path d="M236.7 262.5H238.7M237.7 256.2V268.8" stroke="#0c79c9" stroke-width="1.3" fill="none"/>
<path d="M238.7 272.9H240.8M239.8 266.6V279.2" stroke="#0c79c9" stroke-width="1.3" fill="none"/>
<path d="M240.8 257.2H242.9M241.8 250.9V263.5" stroke="#0c79c9" stroke-width="1.3" fill="none"/>
<path d="M242.9 254.8H245.0M243.9 248.5V261.1" stroke="#0c79c9" stroke-width="1.3" fill="none"/>
<path d="M245.0 276.2H247.1M246.1 269.9V282.5" stroke="#0c79c9" stroke-width="1.3" fill="none"/>
<path d="M247.1 263.9H249.3M248.2 257.6V270.2" stroke="#0c79c9" stroke-width="1.3" fill="none"/>
<path d="M249.3 252.1H251.5M250.4 245.8V258.4" stroke="#0c79c9" stroke-width="1.3" fill="none"/>
<path d="M251.5 257.7H253.7M252.6 251.4V264.0" stroke="#0c79c9" stroke-width="1.3" fill="none"/>
<path d="M253.7 255.8H255.9M254.8 249.5V262.1" stroke="#0c79c9" stroke-width="1.3" fill="none"/>
<path d="M255.9 254.5H258.1M257.0 248.2V260.8" stroke="#0c79c9" stroke-width="1.3" fill="none"/>
<path d="M258.1 255.0H260.4M259.2 248.7V261.3" stroke="#0c79c9" stroke-width="1.3" fill="none"/>
<path d="M260.4 250.0H262.6M261.5 243.7V256.3" stroke="#0c79c9" stroke-width="1.3" fill="none"/>
<path d="M262.6 255.2H264.9M263.8 248.9V261.5" stroke="#0c79c9" stroke-width="1.3" fill="none"/>
<path d="M264.9 263.2H267.2M266.1 256.9V269.5" stroke="#0c79c9" stroke-width="1.3" fill="none"/>
<path d="M267.2 271.3H269.6M268.4 265.0V277.6" stroke="#0c79c9" stroke-width="1.3" fill="none"/>
<path d="M269.6 251.8H271.9M270.8 245.5V258.1" stroke="#0c79c9" stroke-width="1.3" fill="none"/>
<path d="M271.9 247.7H274.3M273.1 241.4V254.0" stroke="#0c79c9" stroke-width="1.3" fill="none"/>
<path d="M274.3 259.9H276.7M275.5 253.6V266.2" stroke="#0c79c9" stroke-width="1.3" fill="none"/>
<path d="M276.7 254.3H279.1M277.9 248.0V260.6" stroke="#0c79c9" stroke-width="1.3" fill="none"/>
<path d="M279.1 250.9H281.6M280.3 244.6V257.2" stroke="#0c79c9" stroke-width="1.3" fill="none"/>
<path d="M281.6 261.7H284.0M282.8 255.4V268.0" stroke="#0c79c9" stroke-width="1.3" fill="none"/>
<path d="M282.3 261.0H286.3M284.3 254.7V267.3" stroke="#0c79c9" stroke-width="1.3" fill="none"/>
<path d="M286.7 249.5H290.7M288.7 243.2V255.8" stroke="#0c79c9" stroke-width="1.3" fill="none"/>
<path d="M290.8 265.4H295.2M293.0 259.1V271.7" stroke="#0c79c9" stroke-width="1.3" fill="none"/>
<path d="M296.3 265.4H301.3M298.8 259.1V271.7" stroke="#0c79c9" stroke-width="1.3" fill="none"/>
<path d="M302.9 256.7H307.9M305.4 250.4V263.0" stroke="#0c79c9" stroke-width="1.3" fill="none"/>
<path d="M309.3 263.9H317.3M313.3 257.6V270.2" stroke="#0c79c9" stroke-width="1.3" fill="none"/>
<path d="M319.5 252.4H328.5M324.0 246.1V258.7" stroke="#0c79c9" stroke-width="1.3" fill="none"/>
<path d="M330.5 250.9H340.5M335.5 244.6V257.2" stroke="#0c79c9" stroke-width="1.3" fill="none"/>
<path d="M340.9 249.5H350.9M345.9 243.2V255.8" stroke="#0c79c9" stroke-width="1.3" fill="none"/>
<path d="M351.7 249.5H365.7M358.7 243.2V255.8" stroke="#0c79c9" stroke-width="1.3" fill="none"/>
<path d="M367.0 243.7H381.0M374.0 237.4V250.0" stroke="#0c79c9" stroke-width="1.3" fill="none"/>
<path d="M66.7 259.6H107.3M87.0 253.1V266.1" stroke="#b53fa9" stroke-width="1.3" fill="none"/>
<path d="M103.3 258.7H111.3M107.3 252.2V265.2" stroke="#b53fa9" stroke-width="1.3" fill="none"/>
<path d="M111.2 258.1H117.2M114.2 251.6V264.6" stroke="#b53fa9" stroke-width="1.3" fill="none"/>
<path d="M116.5 256.7H121.1M118.8 250.2V263.2" stroke="#b53fa9" stroke-width="1.3" fill="none"/>
<path d="M121.0 258.7H125.4M123.2 252.2V265.2" stroke="#b53fa9" stroke-width="1.3" fill="none"/>
<path d="M125.3 261.0H129.7M127.5 254.5V267.5" stroke="#b53fa9" stroke-width="1.3" fill="none"/>
<path d="M129.7 263.1H133.9M131.8 256.6V269.6" stroke="#b53fa9" stroke-width="1.3" fill="none"/>
<path d="M133.6 265.4H137.6M135.6 258.9V271.9" stroke="#b53fa9" stroke-width="1.3" fill="none"/>
<path d="M137.5 273.5H141.7M139.6 267.0V280.0" stroke="#b53fa9" stroke-width="1.3" fill="none"/>
<path d="M141.8 255.3H146.2M144.0 248.8V261.8" stroke="#b53fa9" stroke-width="1.3" fill="none"/>
<path d="M145.6 245.7H149.8M147.7 239.2V252.2" stroke="#b53fa9" stroke-width="1.3" fill="none"/>
<path d="M150.2 260.5H155.2M152.7 254.0V267.0" stroke="#b53fa9" stroke-width="1.3" fill="none"/>
<path d="M154.7 259.0H159.3M157.0 252.5V265.5" stroke="#b53fa9" stroke-width="1.3" fill="none"/>
<path d="M159.3 246.6H164.5M161.9 240.1V253.1" stroke="#b53fa9" stroke-width="1.3" fill="none"/>
<path d="M164.5 254.4H169.7M167.1 247.9V260.9" stroke="#b53fa9" stroke-width="1.3" fill="none"/>
<path d="M169.7 260.7H175.3M172.5 254.2V267.2" stroke="#b53fa9" stroke-width="1.3" fill="none"/>
<path d="M175.6 248.0H181.2M178.4 241.5V254.5" stroke="#b53fa9" stroke-width="1.3" fill="none"/>
<path d="M181.0 248.9H186.0M183.5 242.4V255.4" stroke="#b53fa9" stroke-width="1.3" fill="none"/>
<path d="M185.7 251.9H190.7M188.2 245.4V258.4" stroke="#b53fa9" stroke-width="1.3" fill="none"/>
<path d="M190.6 263.2H196.6M193.6 256.7V269.7" stroke="#b53fa9" stroke-width="1.3" fill="none"/>
<path d="M196.9 267.1H203.9M200.4 260.6V273.6" stroke="#b53fa9" stroke-width="1.3" fill="none"/>
<path d="M203.8 258.9H213.0M208.4 252.4V265.4" stroke="#b53fa9" stroke-width="1.3" fill="none"/>
<path d="M211.5 258.5H220.5M216.0 252.0V265.0" stroke="#b53fa9" stroke-width="1.3" fill="none"/>
<path d="M220.5 258.7H245.5M233.0 252.2V265.2" stroke="#b53fa9" stroke-width="1.3" fill="none"/>
</g>
<path d="M65.63 29.50V31.80M65.63 223.00V227.60M65.63 292.10V294.40M77.01 29.50V31.80M77.01 223.00V227.60M77.01 292.10V294.40M86.63 29.50V31.80M86.63 223.00V227.60M86.63 292.10V294.40M94.96 29.50V31.80M94.96 223.00V227.60M94.96 292.10V294.40M102.31 29.50V31.80M102.31 223.00V227.60M102.31 292.10V294.40M108.89 29.50V34.10M108.89 220.70V229.90M108.89 289.80V294.40M152.15 29.50V31.80M152.15 223.00V227.60M152.15 292.10V294.40M177.45 29.50V31.80M177.45 223.00V227.60M177.45 292.10V294.40M195.41 29.50V31.80M195.41 223.00V227.60M195.41 292.10V294.40M209.33 29.50V31.80M209.33 223.00V227.60M209.33 292.10V294.40M220.71 29.50V31.80M220.71 223.00V227.60M220.71 292.10V294.40M230.33 29.50V31.80M230.33 223.00V227.60M230.33 292.10V294.40M238.67 29.50V31.80M238.67 223.00V227.60M238.67 292.10V294.40M246.02 29.50V31.80M246.02 223.00V227.60M246.02 292.10V294.40M252.59 29.50V34.10M252.59 220.70V229.90M252.59 289.80V294.40M295.85 29.50V31.80M295.85 223.00V227.60M295.85 292.10V294.40M321.16 29.50V31.80M321.16 223.00V227.60M321.16 292.10V294.40M339.11 29.50V31.80M339.11 223.00V227.60M339.11 292.10V294.40M353.04 29.50V31.80M353.04 223.00V227.60M353.04 292.10V294.40M364.42 29.50V31.80M364.42 223.00V227.60M364.42 292.10V294.40M374.04 29.50V31.80M374.04 223.00V227.60M374.04 292.10V294.40M382.37 29.50V31.80M382.37 223.00V227.60M382.37 292.10V294.40M389.72 29.50V31.80M389.72 223.00V227.60M389.72 292.10V294.40M51.70 221.00H54.00M394.00 221.00H396.30M51.70 217.36H54.00M394.00 217.36H396.30M51.70 214.20H54.00M394.00 214.20H396.30M51.70 211.42H54.00M394.00 211.42H396.30M51.70 208.94H56.30M391.70 208.94H396.30M51.70 192.57H54.00M394.00 192.57H396.30M51.70 183.00H54.00M394.00 183.00H396.30M51.70 176.21H54.00M394.00 176.21H396.30M51.70 170.94H54.00M394.00 170.94H396.30M51.70 166.64H54.00M394.00 166.64H396.30M51.70 163.00H54.00M394.00 163.00H396.30M51.70 159.85H54.00M394.00 159.85H396.30M51.70 157.07H54.00M394.00 157.07H396.30M51.70 154.58H56.30M391.70 154.58H396.30M51.70 138.22H54.00M394.00 138.22H396.30M51.70 128.64H54.00M394.00 128.64H396.30M51.70 121.85H54.00M394.00 121.85H396.30M51.70 116.58H54.00M394.00 116.58H396.30M51.70 112.28H54.00M394.00 112.28H396.30M51.70 108.64H54.00M394.00 108.64H396.30M51.70 105.49H54.00M394.00 105.49H396.30M51.70 102.71H54.00M394.00 102.71H396.30M51.70 100.22H56.30M391.70 100.22H396.30M51.70 83.86H54.00M394.00 83.86H396.30M51.70 74.29H54.00M394.00 74.29H396.30M51.70 67.49H54.00M394.00 67.49H396.30M51.70 62.23H54.00M394.00 62.23H396.30M51.70 57.92H54.00M394.00 57.92H396.30M51.70 54.28H54.00M394.00 54.28H396.30M51.70 51.13H54.00M394.00 51.13H396.30M51.70 48.35H54.00M394.00 48.35H396.30M51.70 45.86H56.30M391.70 45.86H396.30M51.70 287.49H56.30M391.70 287.49H396.30M51.70 273.67H56.30M391.70 273.67H396.30M51.70 259.85H56.30M391.70 259.85H396.30M51.70 246.03H56.30M391.70 246.03H396.30M51.70 232.21H56.30M391.70 232.21H396.30" stroke="#000" stroke-width="1.1" fill="none"/>
<rect x="51.70" y="29.50" width="344.60" height="264.90" fill="none" stroke="#000" stroke-width="1.3"/>
<path d="M51.70 225.30H396.30" stroke="#000" stroke-width="1.3"/>
<rect x="274.8" y="178.4" width="115.2" height="40.8" fill="#fff" stroke="#222" stroke-width="0.9"/>
<text x="360" y="191.8" text-anchor="end" font-family='"Liberation Sans", sans-serif' font-size="11.8" fill="#111">NuSTAR FPMA</text>
<path d="M366 187.6H383.3" stroke="#36178f" stroke-width="2"/>
<circle cx="374.6" cy="187.6" r="2.40" fill="#36178f" fill-opacity="0.50" stroke="#36178f" stroke-width="1.8"/>
<text x="360" y="203.3" text-anchor="end" font-family='"Liberation Sans", sans-serif' font-size="11.8" fill="#111">NuSTAR FPMB</text>
<path d="M366 199.1H383.3" stroke="#0c79c9" stroke-width="2"/>
<circle cx="374.6" cy="199.1" r="2.40" fill="#0c79c9" fill-opacity="0.50" stroke="#0c79c9" stroke-width="1.8"/>
<text x="360" y="214.8" text-anchor="end" font-family='"Liberation Sans", sans-serif' font-size="11.8" fill="#111">Swift XRT</text>
<path d="M366 210.6H383.3" stroke="#b53fa9" stroke-width="2"/>
<circle cx="374.6" cy="210.6" r="2.40" fill="#b53fa9" fill-opacity="0.50" stroke="#b53fa9" stroke-width="1.8"/>
<text x="66.2" y="51.3" text-anchor="start" font-family='"Liberation Sans", sans-serif' font-size="14.2" fill="#111" >Epoch 2, Model B</text>
<text x="108.9" y="310.6" text-anchor="middle" font-family='"Liberation Sans", sans-serif' font-size="11.8" fill="#111" >1</text>
<text x="252.8" y="310.6" text-anchor="middle" font-family='"Liberation Sans", sans-serif' font-size="11.8" fill="#111" >10</text>
<text x="396.5" y="310.6" text-anchor="middle" font-family='"Liberation Sans", sans-serif' font-size="11.8" fill="#111" >100</text>
<text x="224.0" y="327.3" text-anchor="middle" font-family='"Liberation Sans", sans-serif' font-size="11.5" fill="#111" >Energy (keV)</text>
<text x="45.6" y="50.2" text-anchor="end" font-family='"Liberation Sans", sans-serif' font-size="11.6" fill="#111">10<tspan dy="-4.1" font-size="9.6">0</tspan></text>
<text x="45.6" y="104.5" text-anchor="end" font-family='"Liberation Sans", sans-serif' font-size="11.6" fill="#111">10<tspan dy="-4.1" font-size="9.6">-1</tspan></text>
<text x="45.6" y="158.9" text-anchor="end" font-family='"Liberation Sans", sans-serif' font-size="11.6" fill="#111">10<tspan dy="-4.1" font-size="9.6">-2</tspan></text>
<text x="45.6" y="213.2" text-anchor="end" font-family='"Liberation Sans", sans-serif' font-size="11.6" fill="#111">10<tspan dy="-4.1" font-size="9.6">-3</tspan></text>
<text x="45.4" y="237.6" text-anchor="end" font-family='"Liberation Sans", sans-serif' font-size="11.6" fill="#111" >4</text>
<text x="45.4" y="251.4" text-anchor="end" font-family='"Liberation Sans", sans-serif' font-size="11.6" fill="#111" >2</text>
<text x="45.4" y="265.2" text-anchor="end" font-family='"Liberation Sans", sans-serif' font-size="11.6" fill="#111" >0</text>
<text x="45.4" y="279.1" text-anchor="end" font-family='"Liberation Sans", sans-serif' font-size="11.6" fill="#111" >-2</text>
<text x="45.4" y="292.9" text-anchor="end" font-family='"Liberation Sans", sans-serif' font-size="11.6" fill="#111" >-4</text>
<text x="59.3" y="285.6" font-family='"Liberation Sans", sans-serif' font-size="11.8" fill="#111">&#967;<tspan dy="2.2" font-size="9.5">&#957;</tspan><tspan dy="-7.2" font-size="9.5">2</tspan><tspan dy="5" font-size="11.8">=0.995</tspan></text>
<text transform="translate(19.4,126.6) rotate(-90)" text-anchor="middle" font-family='"Liberation Sans", sans-serif' font-size="11.5" fill="#111">keV<tspan dy="-7.0" font-size="9.5">2</tspan><tspan dy="7.0"> (Photons cm</tspan><tspan dy="-7.0" font-size="9.5">-2</tspan><tspan dy="7.0"> s</tspan><tspan dy="-7.0" font-size="9.5">-1</tspan><tspan dy="7.0"> keV</tspan><tspan dy="-7.0" font-size="9.5">-1</tspan><tspan dy="7.0">)</tspan></text>
<text transform="translate(26.9,259.6) rotate(-90)" text-anchor="middle" font-family='"Liberation Sans", sans-serif' font-size="11.5" fill="#111">&#916;&#967;<tspan dy="-7.0" font-size="9.5">2</tspan></text>
</svg>
</body></html>
